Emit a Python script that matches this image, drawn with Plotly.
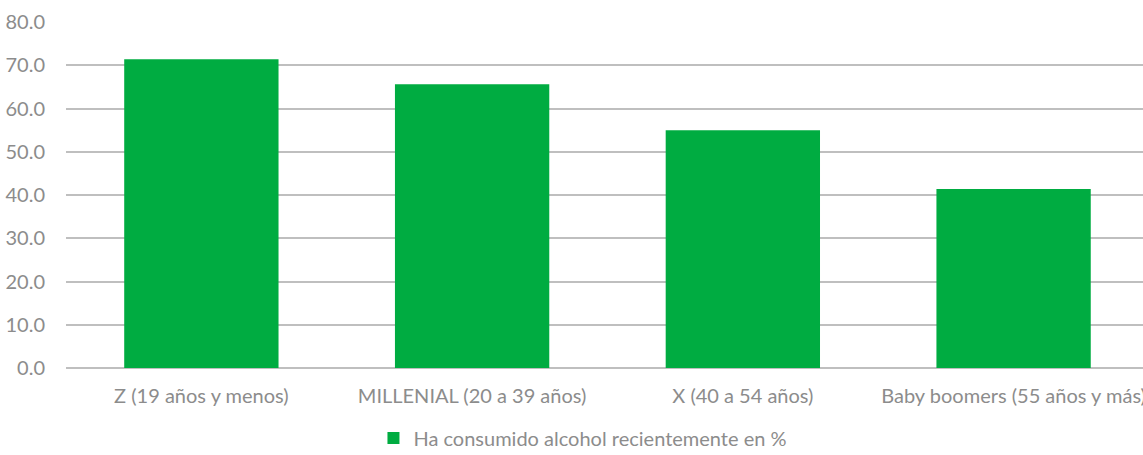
import plotly.graph_objects as go

# Generational groups and share who recently consumed alcohol (%)
categories = ["Z (19 años y menos)", "MILLENIAL (20 a 39 años)", "X (40 a 54 años)", "Baby boomers (55 años y más)"]
values = [71.4, 65.6, 55.0, 41.4]
series_name = "Ha consumido alcohol recientemente en %"
y_ticks = [0, 10, 20, 30, 40, 50, 60, 70, 80]

GREEN = "#00AC41"
GRID = "#BFBFBF"
TEXT = "#8C8C8C"
FONT = "Lato"

fig = go.Figure(
    go.Bar(
        x=categories,
        y=values,
        name=series_name,
        marker=dict(color=GREEN, line=dict(width=0)),
        showlegend=True,
    )
)

fig.update_layout(
    width=1143,
    height=455,
    margin=dict(l=66, r=0, t=22, b=87, autoexpand=False),
    paper_bgcolor="white",
    plot_bgcolor="white",
    bargap=0.43,
    font=dict(family=FONT, size=20, color=TEXT),
    legend=dict(
        orientation="h",
        x=0.48,
        xanchor="center",
        yref="container",
        y=0.08,
        yanchor="top",
        font=dict(family=FONT, size=20, color=TEXT),
        itemwidth=30,
        borderwidth=0,
    ),
    xaxis=dict(
        range=[-0.5, 3.478],
        showgrid=False,
        showline=False,
        ticks="",
        ticklabelstandoff=14,
        tickfont=dict(family=FONT, size=20, color=TEXT),
    ),
    yaxis=dict(
        range=[0, 80],
        tickvals=y_ticks,
        tickformat=".1f",
        showgrid=True,
        gridcolor=GRID,
        gridwidth=1.5,
        zeroline=True,
        zerolinecolor=GRID,
        zerolinewidth=2,
        showline=False,
        ticks="",
        ticklabelstandoff=20,
        tickfont=dict(family=FONT, size=20, color=TEXT),
    ),
)

fig.write_html("out.html")
